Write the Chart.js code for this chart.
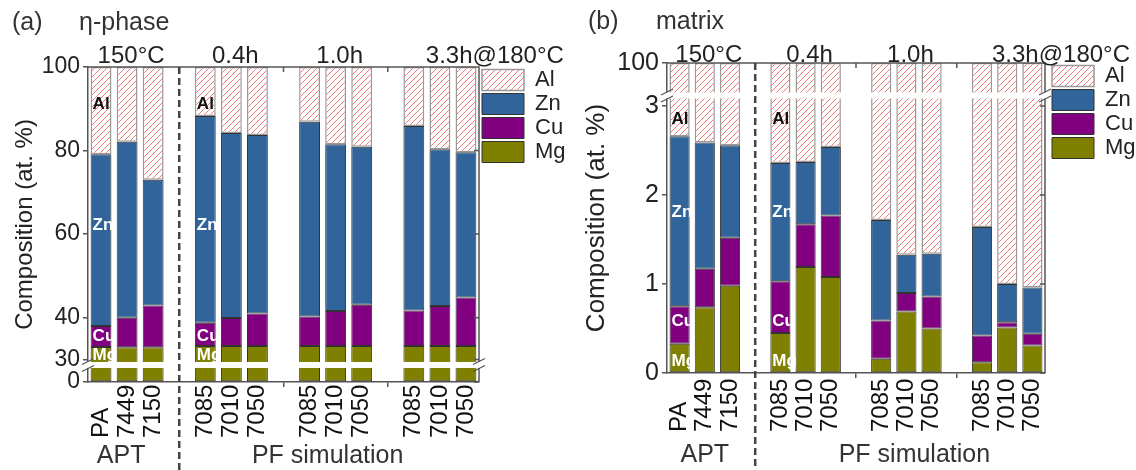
<!DOCTYPE html>
<html>
<head>
<meta charset="utf-8">
<script src="https://cdn.jsdelivr.net/npm/chart.js@4.4.1/dist/chart.umd.min.js"></script>
<style>
  body { margin: 0; background: #fff; }
  .panel { position: absolute; top: 0; width: 568px; height: 470px; }
</style>
</head>
<body>
<div class="panel" style="left:0"><canvas id="eta" width="568" height="470"></canvas></div>
<div class="panel" style="left:568px"><canvas id="matrix" width="568" height="470"></canvas></div>
<script>
// categories ('' = empty slot between groups)
var alloys = ['PA', '7449', '7150', '', '7085', '7010', '7050', '', '7085', '7010', '7050', '', '7085', '7010', '7050'];
var groupLabels = ['150°C', '0.4h', '1.0h', '3.3h@180°C'];
var groupSlots = [1, 5, 9, 12];
var methodLabels = ['APT', 'PF simulation'];
var methodSlots = [1, 9];

// (a) eta-phase composition, at.%
var etaMg = [33.0, 32.9, 32.9, null, 33.2, 33.2, 33.2, null, 33.2, 33.2, 33.2, null, 33.2, 33.2, 33.2];
var etaCu = [5.0, 7.1, 10.0, null, 5.6, 6.7, 7.8, null, 7.1, 8.4, 9.9, null, 8.5, 9.6, 11.6];
var etaZn = [41.1, 42.1, 30.1, null, 49.5, 44.3, 42.7, null, 46.6, 39.9, 37.8, null, 44.2, 37.5, 34.8];
var etaAl = [20.9, 17.9, 27.0, null, 11.7, 15.8, 16.3, null, 13.1, 18.5, 19.1, null, 14.1, 19.7, 20.4];
var etaTicksHi = [30, 40, 60, 80, 100];
var etaTicksLo = [0];
var etaNameAt = [31, 35.5, 62, 91];      // where Mg, Cu, Zn, Al names sit

// (b) matrix composition, at.%
var matMg = [0.33, 0.74, 0.98, null, 0.45, 1.19, 1.08, null, 0.16, 0.69, 0.50, null, 0.12, 0.51, 0.31];
var matCu = [0.42, 0.43, 0.54, null, 0.58, 0.48, 0.69, null, 0.43, 0.21, 0.36, null, 0.30, 0.06, 0.13];
var matZn = [1.91, 1.42, 1.04, null, 1.33, 0.70, 0.77, null, 1.13, 0.43, 0.48, null, 1.22, 0.43, 0.52];
var matAl = [97.34, 97.41, 97.44, null, 97.64, 97.63, 97.46, null, 98.28, 98.67, 98.66, null, 98.36, 99.00, 99.04];
var matTicksHi = [100];
var matTicksLo = [0, 1, 2, 3];
var matNameAt = [0.13, 0.58, 1.8, 2.85];

var elemNames = ['Mg', 'Cu', 'Zn', 'Al'];
var fam = "'Liberation Sans', Arial, sans-serif";
Chart.defaults.font.family = fam;
var axisCol = '#555';

// red "/" hatch for Al, as a striped gradient over the whole canvas
var hatch = (function () {
  var g = document.createElement('canvas').getContext('2d');
  var L = 520, period = 6, w = 1.7;
  var gr = g.createLinearGradient(0, 0, L, L);
  for (var s = 0; s + period <= 2 * L; s += period) {
    gr.addColorStop(s / (2 * L), '#ffffff');
    gr.addColorStop((s + 0.01) / (2 * L), 'rgb(240,120,120)');
    gr.addColorStop((s + w) / (2 * L), 'rgb(240,120,120)');
    gr.addColorStop((s + w + 0.01) / (2 * L), '#ffffff');
  }
  return gr;
})();
var elemFill = ['#808000', '#800080', '#30649a', hatch];
var elemEdge = ['#333', '#333', '#333', '#999'];

// part of segment k of each bar that falls inside [lo, hi]
function piece(parts, k, lo, hi) {
  return parts[k].map(function (v, i) {
    if (v == null) return null;
    var start = 0;
    for (var j = 0; j < k; j++) start += parts[j][i];
    var a = Math.max(start, lo), b = Math.min(start + v, hi);
    return b > a ? [a, b] : null;
  });
}

function makePanel(id, p) {
  var parts = [p.mg, p.cu, p.zn, p.al];
  var sets = [];
  ['yLo', 'yHi'].forEach(function (axis) {
    var lo = axis == 'yLo' ? 0 : p.hiMin;
    var hi = axis == 'yLo' ? p.loMax : 100;
    elemNames.forEach(function (name, k) {
      sets.push({
        label: name,
        yAxisID: axis,
        data: piece(parts, k, lo, hi),
        backgroundColor: elemFill[k],
        borderColor: elemEdge[k],
        borderWidth: k == 3 ? 1.5 : 1,
        borderSkipped: false,
        categoryPercentage: 1,
        barPercentage: 0.8
      });
    });
  });

  function yScale(ticks, min, max, weight) {
    return {
      type: 'linear', position: 'left', stack: 'v', stackWeight: weight,
      min: min, max: max,
      afterBuildTicks: function (s) { s.ticks = ticks.map(function (v) { return { value: v }; }); },
      afterFit: function (s) { s.width = p.yWidth; },
      grid: { drawOnChartArea: false, tickLength: 5, color: axisCol, lineWidth: 1.5 },
      border: { color: axisCol, width: 1.5 },
      ticks: { color: '#222', padding: 3, font: { size: p.tickFont } }
    };
  }

  var deco = {
    id: 'deco',
    afterDatasetsDraw: function (chart) {
      var c = chart.ctx, a = chart.chartArea, xs = chart.scales.x;
      var hiS = chart.scales.yHi, loS = chart.scales.yLo;
      var cut = hiS.bottom;
      c.save();
      // frame top + right with inward ticks
      c.strokeStyle = axisCol;
      c.lineWidth = 1.5;
      c.beginPath();
      c.moveTo(a.left, a.top); c.lineTo(a.right, a.top); c.lineTo(a.right, a.bottom);
      p.ticksHi.forEach(function (v) { var y = hiS.getPixelForValue(v); c.moveTo(a.right, y); c.lineTo(a.right - 5, y); });
      p.ticksLo.forEach(function (v) { var y = loS.getPixelForValue(v); c.moveTo(a.right, y); c.lineTo(a.right - 5, y); });
      alloys.forEach(function (n, i) {
        if (n === '' && i > 3) { var px = xs.getPixelForValue(i); c.moveTo(px, a.top); c.lineTo(px, a.top + 5); }
      });
      c.stroke();
      // axis break
      c.fillStyle = '#fff';
      c.fillRect(a.left - 4, cut - 3, a.right - a.left + 8, 6);
      c.lineWidth = 1.2;
      c.beginPath();
      [a.left, a.right].forEach(function (xx) {
        [-3.5, 3.5].forEach(function (d) { c.moveTo(xx - 6, cut + d + 3); c.lineTo(xx + 6, cut + d - 3); });
      });
      c.stroke();
      // dashed separator APT | PF
      var sep = xs.getPixelForValue(alloys.indexOf(''));
      c.setLineDash([7, 4]);
      c.lineWidth = 2.5;
      c.strokeStyle = '#444';
      c.beginPath(); c.moveTo(sep, a.top); c.lineTo(sep, chart.height); c.stroke();
      c.setLineDash([]);

      // element names inside first bar of APT and PF
      c.font = 'bold 17px ' + fam;
      c.textAlign = 'left';
      c.textBaseline = 'middle';
      [0, 4].forEach(function (i) {
        var el = chart.getDatasetMeta(0).data[i];
        elemNames.forEach(function (name, k) {
          var v = p.nameAt[k];
          var y = v > p.loMax ? hiS.getPixelForValue(v) : loS.getPixelForValue(v);
          c.fillStyle = k == 3 ? '#111' : '#fff';
          c.fillText(name, el.x - el.width / 2 + 2, y);
        });
      });

      // category labels (rotated, bottom aligned)
      c.fillStyle = '#111';
      c.font = '24px ' + fam;
      alloys.forEach(function (n, i) {
        if (!n) return;
        c.save();
        c.translate(xs.getPixelForValue(i), p.xLabBottom);
        c.rotate(-Math.PI / 2);
        c.fillText(n, 0, 0);
        c.restore();
      });

      // group headings over plot
      c.fillStyle = '#222';
      c.textBaseline = 'alphabetic';
      groupLabels.forEach(function (g, j) {
        var px = xs.getPixelForValue(groupSlots[j]);
        if (j == groupLabels.length - 1) { c.textAlign = 'left'; c.fillText(g, px + p.lastDx, a.top + p.groupDy); }
        else { c.textAlign = 'center'; c.fillText(g, px + 4, a.top + p.groupDy); }
      });

      // method labels below
      c.fillStyle = '#333';
      c.font = '25px ' + fam;
      c.textAlign = 'center';
      methodLabels.forEach(function (m, j) {
        c.fillText(m, xs.getPixelForValue(methodSlots[j]) + p.methodDx[j], p.methodY);
      });

      // panel tag and name
      c.textAlign = 'left';
      c.fillText(p.tag, p.tagX, p.headY);
      c.fillText(p.name, p.nameX, p.headY);

      // y title
      c.fillStyle = '#222';
      c.font = p.yTitleSize + 'px ' + fam;
      c.textAlign = 'center';
      c.save();
      c.translate(p.yTitleX, (a.top + a.bottom) / 2);
      c.rotate(-Math.PI / 2);
      c.fillText('Composition (at. %)', 0, 0);
      c.restore();
      c.restore();
    }
  };

  return new Chart(document.getElementById(id), {
    type: 'bar',
    data: { labels: alloys, datasets: sets },
    options: {
      responsive: false,
      animation: false,
      events: [],
      layout: { padding: { top: p.top, left: 0, right: 0, bottom: 0 } },
      scales: {
        x: {
          stacked: true,
          afterFit: function (s) { s.height = p.xHeight; },
          grid: {
            offset: false, drawOnChartArea: false, tickLength: 5, lineWidth: 1.5,
            color: function (ctx) { return alloys[ctx.index] === '' && ctx.index > 3 ? axisCol : 'rgba(0,0,0,0)'; }
          },
          border: { color: axisCol, width: 1.5 },
          ticks: { display: false }
        },
        yLo: yScale(p.ticksLo, 0, p.loMax, p.wLo),
        yHi: yScale(p.ticksHi, p.hiMin, 100, p.wHi),
        pad: {
          type: 'linear', axis: 'y', position: 'right', display: true,
          grid: { display: false }, border: { display: false }, ticks: { display: false },
          afterFit: function (s) { s.width = p.gap; }
        }
      },
      plugins: {
        tooltip: { enabled: false },
        legend: {
          position: 'right', align: 'start', reverse: true, maxWidth: p.legendW,
          labels: {
            boxWidth: 42, boxHeight: 21, padding: 2, color: '#222',
            font: { size: 22 },
            filter: function (item) { return item.datasetIndex >= 4; }
          }
        }
      }
    },
    plugins: [deco]
  });
}

makePanel('eta', {
  mg: etaMg, cu: etaCu, zn: etaZn, al: etaAl, ticksHi: etaTicksHi, ticksLo: etaTicksLo, nameAt: etaNameAt,
  hiMin: 28.68, loMax: 4, wHi: 297.5, wLo: 17,
  top: 67, xHeight: 88, yWidth: 88, gap: 1, legendW: 88, tickFont: 23,
  xLabBottom: 438, groupDy: -4, lastDx: 12, methodY: 463, methodDx: [-6, -8],
  tag: '(a)', name: 'η-phase', tagX: 12, nameX: 79, headY: 30,
  yTitleX: 32, yTitleSize: 24
});

makePanel('matrix', {
  mg: matMg, cu: matCu, zn: matZn, al: matAl, ticksHi: matTicksHi, ticksLo: matTicksLo, nameAt: matNameAt,
  hiMin: 99, loMax: 3.118, wHi: 32.5, wLo: 277.5,
  top: 63, xHeight: 97, yWidth: 99, gap: 5, legendW: 86, tickFont: 25,
  xLabBottom: 432, groupDy: -1, lastDx: 10, methodY: 462, methodDx: [0, 8],
  tag: '(b)', name: 'matrix', tagX: 20, nameX: 88, headY: 29,
  yTitleX: 36, yTitleSize: 26
});
</script>
</body>
</html>
